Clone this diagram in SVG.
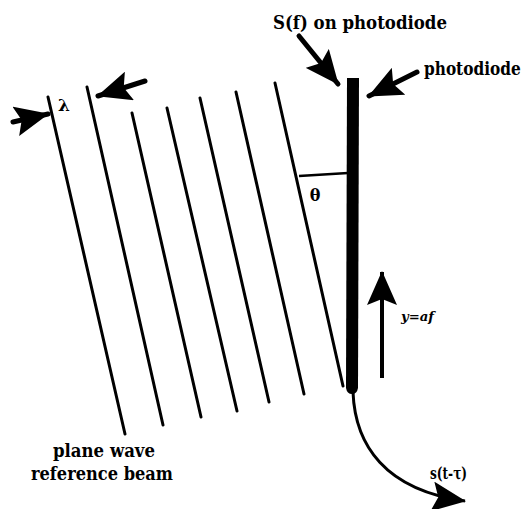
<svg xmlns="http://www.w3.org/2000/svg" width="528" height="509" viewBox="0 0 528 509">
<style>
.t{font-family:"DejaVu Serif",serif;font-weight:bold;fill:#000}
.w{stroke:#000;stroke-width:3;fill:none;stroke-linecap:round}
.a{stroke:#000;stroke-width:5;fill:none;stroke-linecap:round}
.c{stroke:#000;stroke-width:3;fill:none}
</style>
<defs>
<marker id="ah" markerUnits="userSpaceOnUse" viewBox="0 0 34 30" markerWidth="34" markerHeight="30" refX="33" refY="15" orient="auto">
<path d="M0,0 L34,15 L0,30 L6,15 z" fill="#000"/>
</marker>
</defs>
<rect width="528" height="509" fill="#fff"/>
<g id="wavefronts">
<line class="w" x1="48" y1="97" x2="125" y2="434"/>
<line class="w" x1="87" y1="87" x2="163" y2="425"/>
<line class="w" x1="132" y1="113" x2="201" y2="417"/>
<line class="w" x1="167" y1="108" x2="237" y2="411"/>
<line class="w" x1="200" y1="98" x2="269" y2="402"/>
<line class="w" x1="236" y1="92" x2="304" y2="394"/>
<line class="w" x1="275" y1="83" x2="343" y2="386"/>
</g>
<g id="photodiode">
<path d="M347,78 L359,78 L358,388 Q357,394 352,394 Q347,394 346,388 Z" fill="#000"/>
</g>
<g id="theta">
<line x1="299" y1="176" x2="348" y2="173" stroke="#000" stroke-width="2.5"/>
<text class="t" x="315" y="201" font-size="16" text-anchor="middle">θ</text>
</g>
<g id="labels">
<text class="t" x="273" y="29" font-size="19" textLength="174" lengthAdjust="spacingAndGlyphs">S(f) on photodiode</text>
<text class="t" transform="translate(424,75) scale(0.78,1)" x="0" y="0" font-size="18" textLength="124" lengthAdjust="spacingAndGlyphs">photodiode</text>
<text class="t" x="58" y="111" font-size="17">λ</text>
<text class="t" x="401" y="321" font-size="13" font-style="italic" textLength="33" lengthAdjust="spacingAndGlyphs">y=af</text>
<text class="t" x="430" y="479" font-size="16" textLength="37" lengthAdjust="spacingAndGlyphs">s(t-τ)</text>
<text class="t" x="104" y="457" font-size="19" text-anchor="middle" textLength="102" lengthAdjust="spacingAndGlyphs">plane wave</text>
<text class="t" x="102" y="480" font-size="19" text-anchor="middle" textLength="142" lengthAdjust="spacingAndGlyphs">reference beam</text>
</g>
<g id="connectors">
<line class="a" x1="299" y1="36" x2="338" y2="84" marker-end="url(#ah)"/>
<line class="a" x1="417" y1="72" x2="369" y2="96" marker-end="url(#ah)"/>
<line class="a" x1="13" y1="122" x2="48" y2="114" marker-end="url(#ah)"/>
<line class="a" x1="145" y1="81" x2="98" y2="96" marker-end="url(#ah)"/>
<line x1="382" y1="378" x2="382" y2="272" stroke="#000" stroke-width="4" marker-end="url(#ah)"/>
<path class="c" d="M353,392 C355,445 385,490 465,501" marker-end="url(#ah)"/>
</g>
</svg>
